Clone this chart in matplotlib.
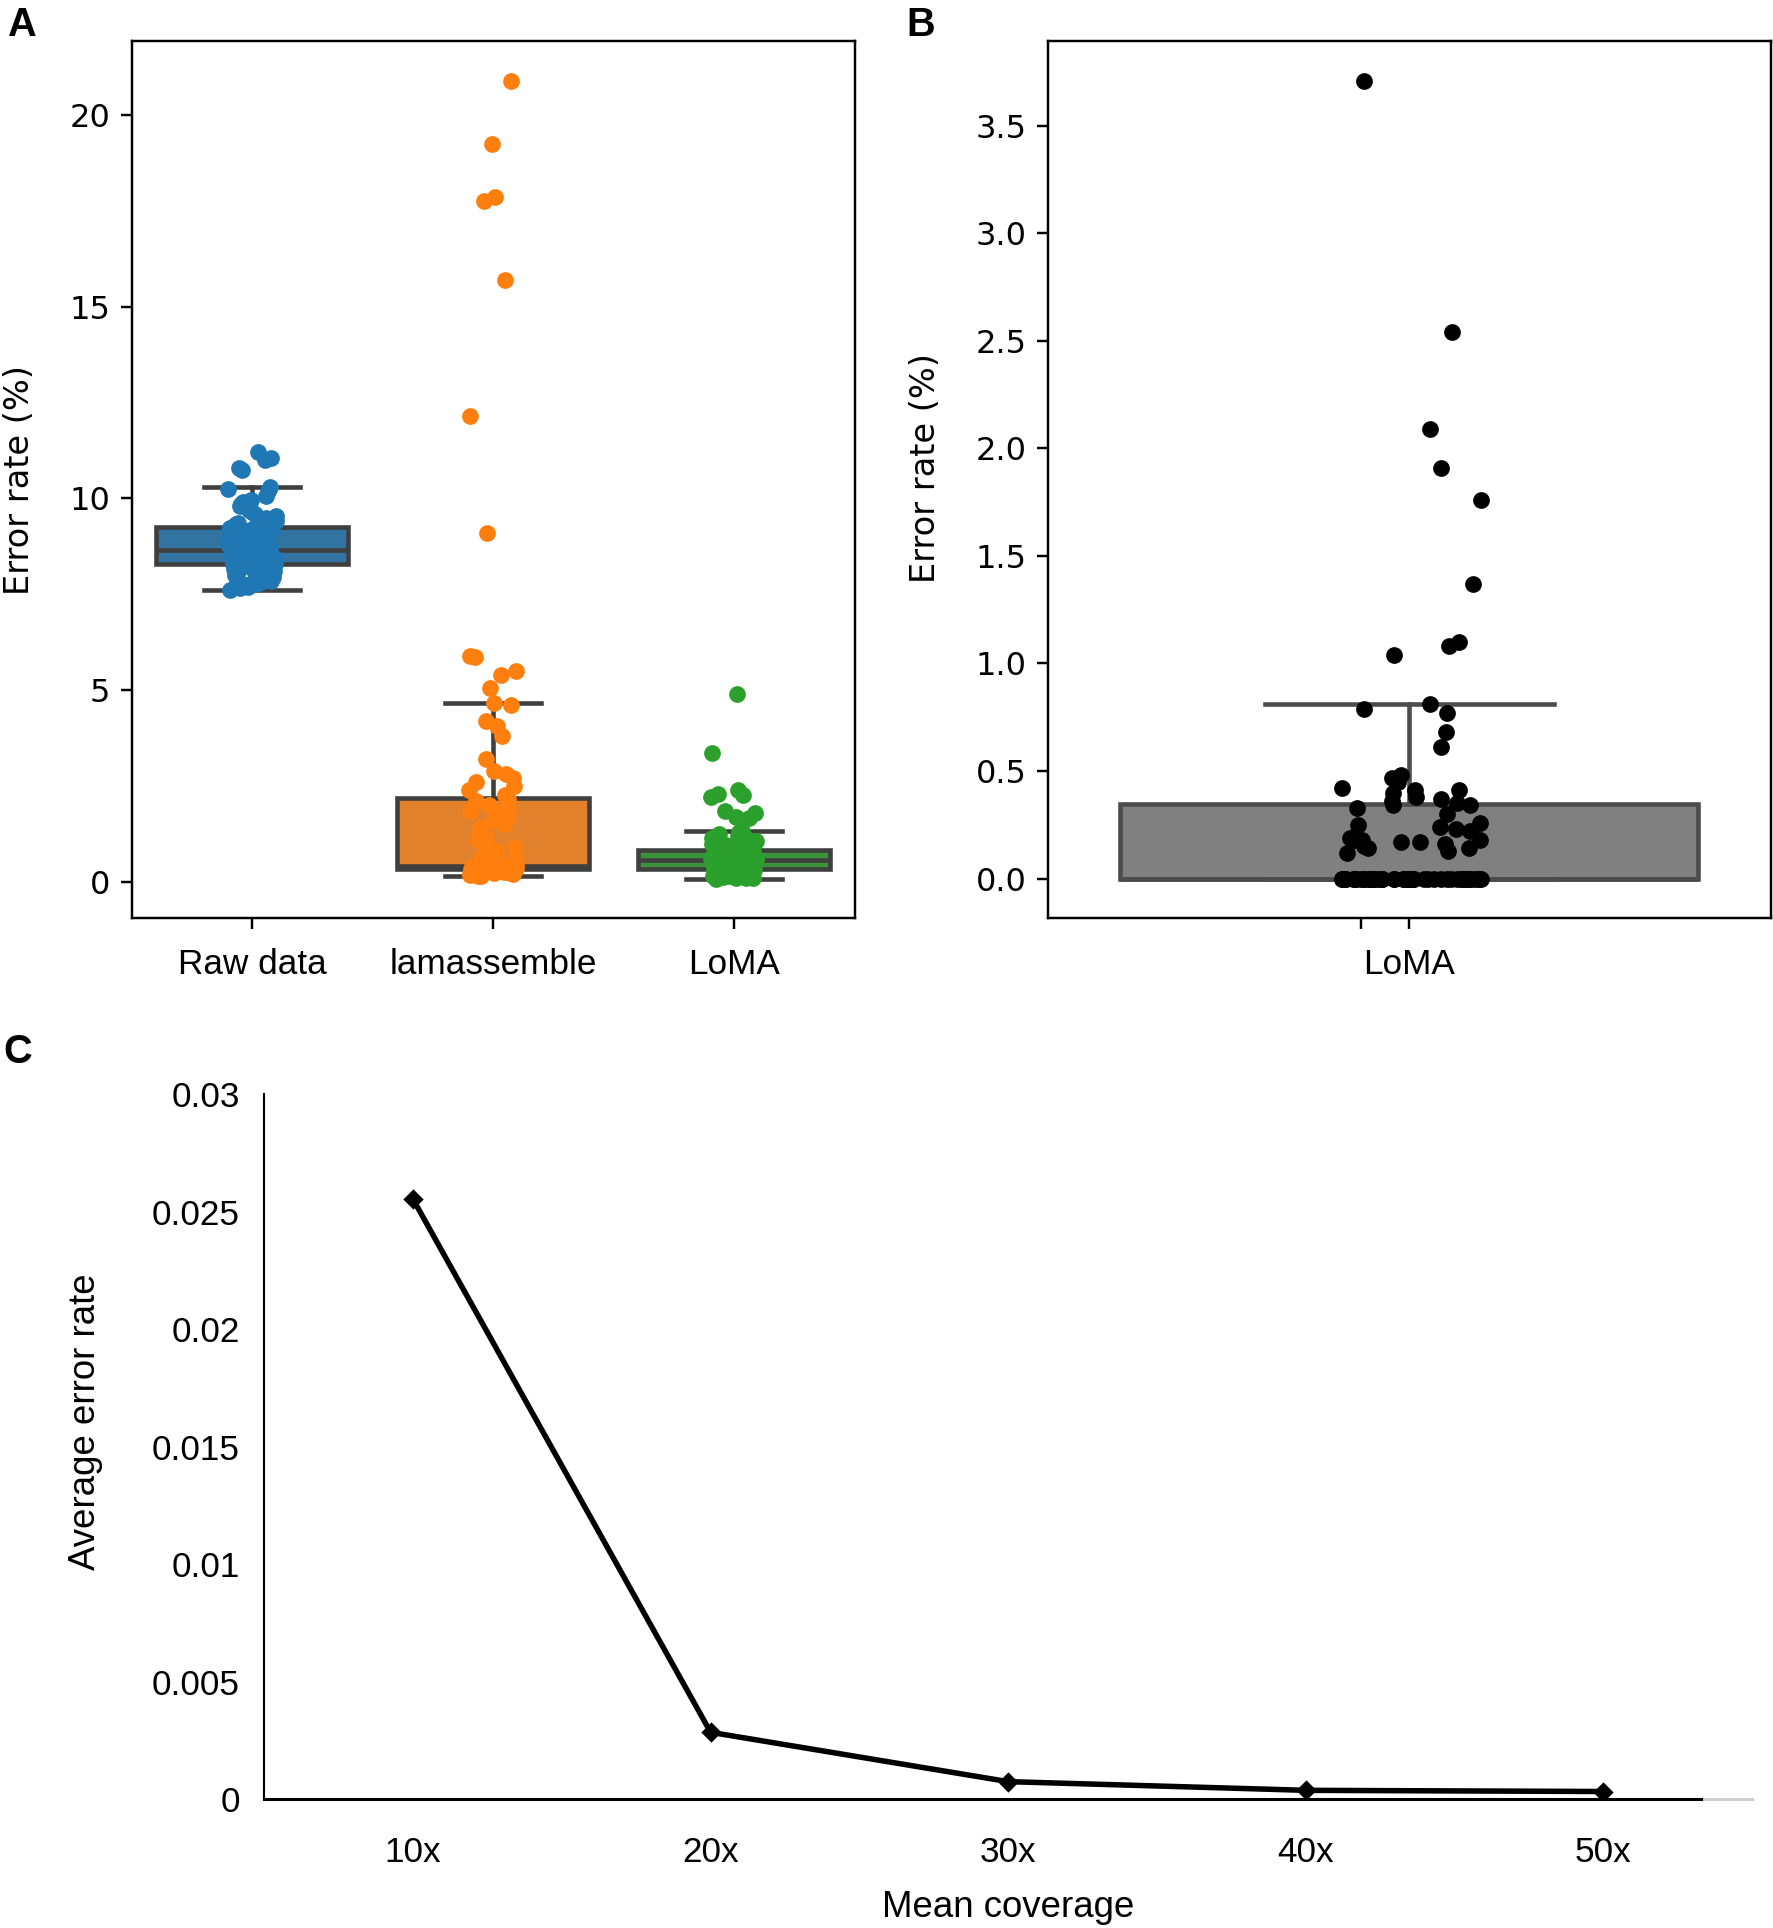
import numpy as np
import matplotlib
matplotlib.use("Agg")
import matplotlib.pyplot as plt

# ---- data ----
box_categories = ["Raw data", "lamassemble", "LoMA"]

raw_data = [11.2, 11.05, 11.0, 10.8, 10.75,
            10.29, 10.25, 10.2, 10.05, 9.95, 9.9, 9.85, 9.8, 9.7, 9.65, 9.6, 9.55, 9.5, 9.45, 9.4, 9.36, 9.32, 9.28,
            9.24, 9.22,
            9.2, 9.17, 9.14, 9.1, 9.06, 9.02, 8.98, 8.95, 8.92, 8.89, 8.86, 8.83, 8.8, 8.78, 8.76, 8.74, 8.72, 8.7,
            8.68, 8.66, 8.65,
            8.63, 8.62,
            8.61, 8.6, 8.58, 8.57, 8.55, 8.53, 8.52, 8.5, 8.48, 8.47, 8.45, 8.43, 8.42, 8.4, 8.38, 8.37, 8.35, 8.33,
            8.32, 8.3,
            8.28, 8.26, 8.24, 8.22, 8.2, 8.18, 8.15, 8.12, 8.1, 8.07, 8.04, 8.0, 7.97, 7.94, 7.9, 7.87, 7.84, 7.8,
            7.77, 7.73, 7.7, 7.66, 7.62]

lamassemble = [20.9, 19.25, 17.85, 17.75, 15.7, 12.15, 9.1, 5.9, 5.85, 5.5, 5.4, 5.05,
               4.66, 4.6, 4.2, 4.05, 3.8, 3.2, 2.9, 2.8, 2.7, 2.6, 2.5, 2.4, 2.25,
               2.15, 2.1,
               2.0, 1.9, 1.85, 1.8, 1.7, 1.6, 1.5, 1.4, 1.3, 1.2, 1.1, 1.0, 0.9, 0.8, 0.72, 0.65, 0.6, 0.55, 0.5,
               0.47, 0.45, 0.43, 0.42,
               0.41, 0.41,
               0.40, 0.40, 0.39, 0.39, 0.38, 0.38, 0.37, 0.37, 0.36, 0.36, 0.36, 0.35, 0.35, 0.35, 0.34, 0.34, 0.34,
               0.33, 0.33, 0.33, 0.33, 0.32, 0.32, 0.32,
               0.31, 0.31, 0.30, 0.30, 0.29, 0.29, 0.28, 0.28, 0.27, 0.27, 0.26, 0.26, 0.25, 0.25, 0.24, 0.23, 0.22,
               0.21, 0.20, 0.19, 0.18, 0.17, 0.15, 0.14]

loma_a = [4.9, 3.35, 2.4, 2.3, 2.25, 2.2, 1.85, 1.8, 1.7, 1.65,
          1.33, 1.3, 1.25, 1.2, 1.15, 1.1, 1.05, 1.0, 0.98, 0.95, 0.92, 0.9, 0.88, 0.86, 0.84,
          0.82, 0.81,
          0.80, 0.79, 0.78, 0.77, 0.76, 0.75, 0.74, 0.72, 0.71, 0.70, 0.69, 0.68, 0.67, 0.66, 0.65, 0.64, 0.63,
          0.62, 0.61, 0.60, 0.59, 0.58, 0.57,
          0.55, 0.55,
          0.54, 0.53, 0.52, 0.51, 0.50, 0.49, 0.48, 0.47, 0.46, 0.45, 0.44, 0.43, 0.42, 0.41, 0.40, 0.39, 0.38,
          0.37, 0.36, 0.35, 0.34, 0.33, 0.32, 0.31,
          0.30, 0.29, 0.28, 0.27, 0.26, 0.25, 0.24, 0.23, 0.22, 0.21, 0.20, 0.19, 0.18, 0.17, 0.16, 0.15, 0.14,
          0.13, 0.12, 0.11, 0.10, 0.09, 0.09, 0.08]

loma_b = [3.71, 2.54, 2.09, 1.91, 1.76, 1.37, 1.10, 1.08, 1.04, 0.81, 0.79, 0.77, 0.68, 0.61, 0.48, 0.47,
          0.45, 0.42, 0.41, 0.41, 0.40, 0.38, 0.37, 0.36, 0.35, 0.34, 0.34,
          0.33, 0.30, 0.26, 0.25, 0.24, 0.23, 0.22, 0.20, 0.19, 0.18, 0.18, 0.18, 0.17, 0.17, 0.16, 0.15, 0.14,
          0.14, 0.13, 0.12] + [0.0] * 51

coverage = ["10x", "20x", "30x", "40x", "50x"]
avg_error = [0.02553, 0.00284, 0.00074, 0.00037, 0.00032]
c_yticks = [0, 0.005, 0.01, 0.015, 0.02, 0.025, 0.03]
c_yticklabels = ["0", "0.005", "0.01", "0.015", "0.02", "0.025", "0.03"]

dot_colors = ["#1f77b4", "#ff7f0e", "#2ca02c"]
box_colors = ["#3274a1", "#e1812c", "#3a923a"]

plt.rcParams["font.family"] = ["Liberation Sans", "DejaVu Sans"]
plt.rcParams["font.size"] = 11.5
dv = "DejaVu Sans"  # y axis texts of panels A and B

rng = np.random.default_rng(7)

fig = plt.figure(figsize=(1773 / 220, 1928 / 220), dpi=220)

# ---- panel A ----
ax_a = fig.add_axes([0.0742, 0.5236, 0.4078, 0.4553])
groups = [raw_data, lamassemble, loma_a]
bp = ax_a.boxplot(groups, positions=range(3), widths=0.8, patch_artist=True, showfliers=False,
                  boxprops=dict(edgecolor="#3f3f3f", linewidth=1.5),
                  medianprops=dict(color="#3f3f3f", linewidth=1.5),
                  whiskerprops=dict(color="#3f3f3f", linewidth=1.5),
                  capprops=dict(color="#3f3f3f", linewidth=1.5))
for patch, col in zip(bp["boxes"], box_colors):
    patch.set_facecolor(col)
for i, vals in enumerate(groups):
    xs = i + rng.uniform(-0.1, 0.1, len(vals))
    ax_a.scatter(xs, vals, s=30, color=dot_colors[i], linewidths=0, zorder=3)
ax_a.set_xlim(-0.5, 2.5)
ax_a.set_xticks(range(3))
ax_a.set_xticklabels(box_categories)
ax_a.set_yticks([0, 5, 10, 15, 20])
ax_a.set_yticklabels(["0", "5", "10", "15", "20"], fontfamily=dv, fontsize=10.5)
ax_a.tick_params(axis="x", pad=6)
ax_a.set_ylabel("Error rate (%)", fontfamily=dv, fontsize=11, labelpad=11)

# ---- panel B ----
ax_b = fig.add_axes([0.5909, 0.5236, 0.4078, 0.4553])
bp2 = ax_b.boxplot([loma_b], positions=[0], widths=0.8, patch_artist=True, showfliers=False,
                   boxprops=dict(edgecolor="#4c4c4c", facecolor="#808080", linewidth=1.5),
                   medianprops=dict(color="#4c4c4c", linewidth=1.5),
                   whiskerprops=dict(color="#4c4c4c", linewidth=1.5),
                   capprops=dict(color="#4c4c4c", linewidth=1.5))
xs = rng.uniform(-0.1, 0.1, len(loma_b))
ax_b.scatter(xs, loma_b, s=30, color="black", linewidths=0, zorder=3)
ax_b.set_xlim(-0.5, 0.5)
ax_b.set_xticks([-0.066, 0])
ax_b.set_xticklabels(["", "LoMA"])
b_yticks = [0, 0.5, 1.0, 1.5, 2.0, 2.5, 3.0, 3.5]
ax_b.set_yticks(b_yticks)
ax_b.set_yticklabels([f"{v:.1f}" for v in b_yticks], fontfamily=dv, fontsize=10.5)
ax_b.tick_params(axis="x", pad=6)
ax_b.set_ylabel("Error rate (%)", fontfamily=dv, fontsize=11, labelpad=11, y=0.513)

# ---- panel C ----
ax_c = fig.add_axes([0.1491, 0.0669, 0.8390, 0.3655])
ax_c.plot(range(len(coverage)), avg_error, color="black", linewidth=1.8, marker="D", markersize=3.5)
ax_c.set_xlim(-0.5, 4.5)
ax_c.set_ylim(0, 0.03)
ax_c.set_xticks(range(len(coverage)))
ax_c.set_xticklabels(coverage, fontsize=11.5)
ax_c.set_yticks(c_yticks)
ax_c.set_yticklabels(c_yticklabels, fontsize=11.5)
ax_c.tick_params(axis="both", length=0)
ax_c.tick_params(axis="x", pad=12)
ax_c.tick_params(axis="y", pad=8)
ax_c.spines["top"].set_visible(False)
ax_c.spines["right"].set_visible(False)
ax_c.spines["left"].set_linewidth(0.7)
ax_c.spines["bottom"].set_linewidth(1.0)
ax_c.spines["bottom"].set_bounds(-0.5, 4.33)
ax_c.plot([4.33, 4.5], [0, 0], color="#d0d0d0", linewidth=1.0, clip_on=False)
ax_c.set_xlabel("Mean coverage", fontsize=12, labelpad=7)
ax_c.set_ylabel("Average error rate", fontsize=12, labelpad=16, y=0.536)

# panel letters
fig.text(0.004, 0.997, "A", fontweight="bold", fontsize=13, va="top", ha="left")
fig.text(0.511, 0.997, "B", fontweight="bold", fontsize=13, va="top", ha="left")
fig.text(0.002, 0.464, "C", fontweight="bold", fontsize=13, va="top", ha="left")

plt.savefig("out.png", dpi=220)
